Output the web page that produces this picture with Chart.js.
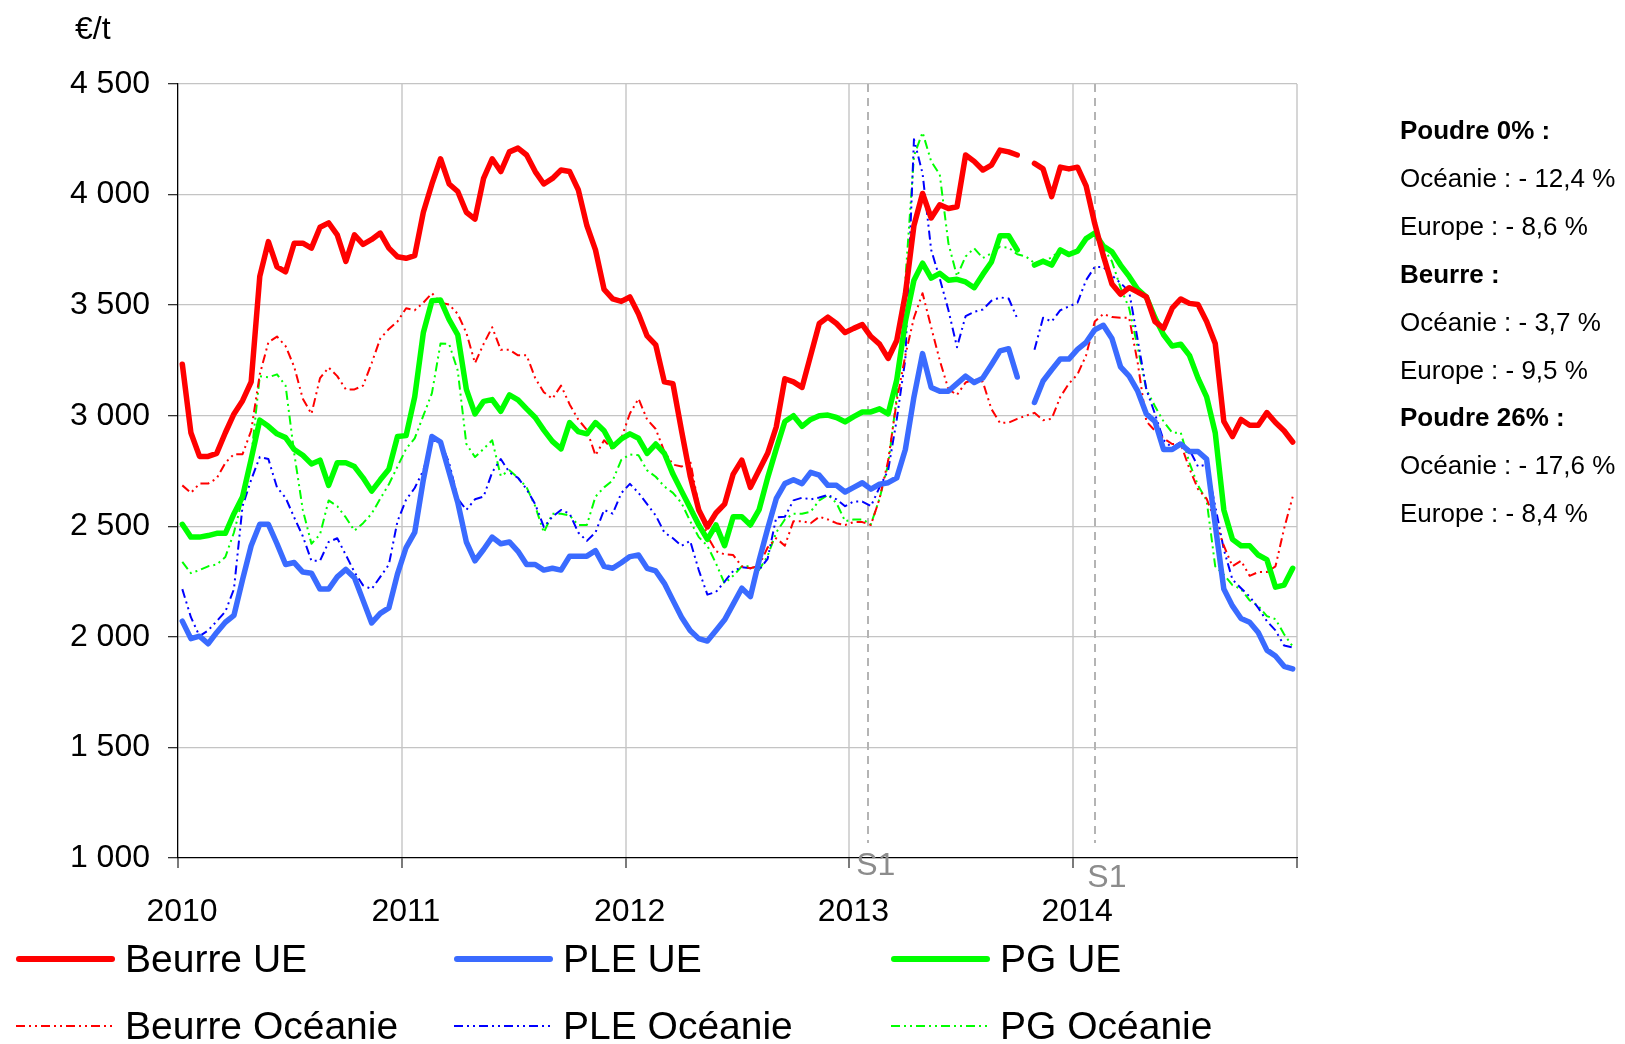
<!DOCTYPE html>
<html>
<head>
<meta charset="utf-8">
<script src="https://cdn.jsdelivr.net/npm/chart.js@4.4.1/dist/chart.umd.min.js"></script>
<style>
html,body{margin:0;padding:0;background:#ffffff;}
#wrap{width:1625px;height:1044px;position:relative;}
</style>
</head>
<body>
<div id="wrap"><canvas id="c"></canvas></div>
<script>
// ---- Data (biweekly prices, €/t) ----
const START_YEAR = 2010;
const PERIODS_PER_YEAR = 26;
const yearTicks = [2010, 2011, 2012, 2013, 2014];

const beurreUE = [3233,2923,2816,2816,2830,2923,3008,3068,3153,3630,3787,3673,3651,3780,3780,3758,3852,3872,3818,3698,3818,3775,3797,3826,3758,3719,
3712,3724,3920,4048,4162,4048,4014,3920,3889,4073,4162,4104,4193,4210,4179,4104,4048,4073,4111,4104,4022,3860,3750,3571,3528,3517,
3537,3460,3361,3320,3153,3145,2932,2727,2574,2497,2560,2600,2736,2799,2676,2753,2830,2949,3167,3153,3128,3273,3417,3446,3417,3376,
3395,3412,3358,3324,3259,3340,3550,3860,4005,3894,3954,3937,3945,4179,4150,4111,4133,4201,4193,4179,null,4141,4116,3991,4124,4116,
4124,4039,3869,3724,3596,3549,3579,3559,3537,3426,3395,3486,3528,3508,3503,3426,3327,2974,2906,2983,2957,2957,3014,2969,2932,2881];

const pleUE = [2071,1992,2003,1969,2020,2066,2097,2259,2412,2509,2509,2421,2327,2336,2293,2288,2216,2216,2271,2305,2267,2165,2063,2106,2131,2285,
2404,2472,2710,2906,2881,2744,2608,2429,2344,2395,2451,2421,2429,2387,2327,2327,2302,2310,2302,2365,2365,2365,2390,2319,2310,2335,
2363,2370,2310,2298,2242,2165,2089,2029,1992,1981,2029,2077,2148,2220,2182,2344,2489,2625,2693,2710,2693,2744,2731,2685,2685,2655,
2676,2697,2668,2690,2697,2719,2847,3085,3281,3128,3111,3111,3145,3179,3150,3170,3230,3293,3303,3175,null,3060,3157,3208,3256,3256,
3300,3332,3388,3409,3349,3221,3179,3111,3008,2974,2847,2847,2872,2838,2838,2804,2506,2216,2140,2083,2066,2020,1940,1913,1867,1855];

const pgUE = [2509,2451,2451,2458,2468,2468,2557,2634,2804,2980,2952,2918,2901,2847,2821,2782,2799,2685,2787,2787,2770,2719,2659,2710,2758,2906,
2910,3085,3375,3520,3523,3434,3366,3119,3008,3065,3073,3020,3094,3072,3031,2992,2935,2884,2850,2969,2928,2918,2969,2932,2860,2895,
2918,2898,2830,2872,2830,2736,2659,2583,2506,2441,2506,2412,2543,2543,2506,2574,2719,2850,2974,3000,2952,2983,3000,3003,2992,2972,
2996,3017,3017,3031,3008,3162,3426,3613,3690,3622,3644,3613,3617,3605,3579,3639,3695,3814,3814,3750,null,3681,3699,3681,3750,3729,
3744,3801,3826,3767,3741,3681,3630,3571,3537,3443,3366,3315,3323,3273,3170,3085,2923,2574,2441,2412,2412,2370,2349,2225,2234,2310];

const beurreOceanie = [2685,2651,2693,2693,2717,2787,2826,2826,2932,3187,3332,3358,3315,3221,3077,3008,3170,3218,3179,3119,3119,3136,3238,3349,3392,3426,
3486,3477,3511,3554,3511,3503,3460,3375,3238,3324,3400,3298,3298,3273,3273,3170,3106,3077,3136,3051,2983,2935,2821,2889,2847,2898,
3010,3077,2983,2940,2838,2779,2770,2796,2591,2455,2387,2373,2370,2319,2310,2322,2404,2446,2412,2523,2523,2514,2543,2531,2514,2506,
2519,2519,2506,2625,2796,3068,3273,3443,3554,3400,3250,3120,3094,3150,3165,3153,3030,2967,2969,2986,3000,3013,2980,2986,3085,3145,
3187,3273,3426,3460,3446,3443,3443,3238,2974,2932,2898,2872,2872,2761,2668,2625,2523,2412,2319,2344,2276,2293,2293,2319,2489,2634];

const pleOceanie = [2216,2089,2003,2029,2071,2114,2216,2591,2710,2813,2804,2676,2629,2540,2455,2344,2344,2429,2446,2370,2293,2233,2216,2271,2327,2523,
2620,2673,2753,2889,2881,2787,2625,2574,2622,2634,2744,2804,2744,2719,2668,2600,2497,2543,2574,2557,2472,2434,2472,2574,2557,2650,
2692,2651,2600,2549,2472,2446,2412,2434,2302,2191,2203,2250,2298,2315,2310,2302,2353,2540,2543,2617,2629,2622,2630,2642,2622,2591,
2612,2612,2591,2676,2753,2983,3256,4250,4095,3750,3620,3478,3310,3450,3470,3480,3520,3535,3530,3440,null,3298,3443,3426,3477,3494,
3511,3613,3673,3673,3634,3600,3562,3341,3119,3008,2889,2855,2881,2847,2770,2779,2591,2395,2259,2220,2182,2131,2071,2029,1961,1952];

const pgOceanie = [2339,2288,2302,2319,2327,2361,2472,2625,2813,3179,3174,3187,3136,2830,2574,2421,2463,2617,2591,2540,2480,2514,2557,2625,2690,2770,
2850,2898,3000,3102,3327,3324,3204,2872,2813,2850,2889,2727,2753,2719,2676,2591,2472,2557,2557,2549,2506,2506,2634,2676,2707,2800,
2825,2821,2753,2724,2680,2651,2605,2523,2451,2412,2332,2242,2276,2319,2319,2302,2366,2472,2531,2557,2557,2566,2617,2642,2605,2523,
2531,2531,2509,2625,2779,3085,3613,4175,4281,4150,4090,3780,3630,3720,3757,3713,3735,3764,3760,3730,3720,3690,3700,3715,3750,3730,
3750,3797,3818,3758,3698,3579,3486,3307,3119,3043,2974,2923,2923,2787,2685,2617,2319,2281,2234,2216,2165,2140,2094,2080,2012,1957];

const seriesNames = ['Beurre UE', 'PLE UE', 'PG UE', 'Beurre Océanie', 'PLE Océanie', 'PG Océanie'];
const s1Marks = [2013.082, 2014.097];
const s1Text = ['S1', 'S1'];
const notes = [
  ['Poudre 0% :', true],
  ['Océanie : - 12,4 %', false],
  ['Europe : - 8,6 %', false],
  ['Beurre :', true],
  ['Océanie : - 3,7 %', false],
  ['Europe : - 9,5 %', false],
  ['Poudre 26% :', true],
  ['Océanie : - 17,6 %', false],
  ['Europe : - 8,4 %', false]
];

// ---- Build chart ----
const FONT = "'Liberation Sans', Arial, Helvetica, sans-serif";
const toPoints = arr => arr.map((v, i) => ({ x: START_YEAR + (i + 0.5) / PERIODS_PER_YEAR, y: v }));
const DASH = [9, 4, 2, 4, 2, 4];

function mk(label, arr, color, thick) {
  return {
    label, data: toPoints(arr),
    borderColor: color, backgroundColor: color,
    borderWidth: thick ? 5.5 : 2,
    borderDash: thick ? [] : DASH,
    borderJoinStyle: 'round', borderCapStyle: thick ? 'round' : 'butt',
    pointRadius: 0, tension: 0, spanGaps: false, fill: false,
    legendWidth: thick ? 6 : 2
  };
}

const datasets = [
  mk(seriesNames[0], beurreUE, '#ff0000', true),
  mk(seriesNames[1], pleUE, '#3a6bff', true),
  mk(seriesNames[2], pgUE, '#00ff00', true),
  mk(seriesNames[3], beurreOceanie, '#ff0000', false),
  mk(seriesNames[4], pleOceanie, '#0000ff', false),
  mk(seriesNames[5], pgOceanie, '#00ff00', false)
];

function fmtThousands(v) {
  const th = Math.floor(v / 1000), r = v % 1000;
  return th > 0 ? th + ' ' + String(r).padStart(3, '0') : String(r);
}

const decorPlugin = {
  id: 'decor',
  beforeDatasetsDraw(chart) {
    const { ctx, chartArea, scales } = chart;
    ctx.save();
    ctx.strokeStyle = '#b4b4b4';
    ctx.lineWidth = 2;
    ctx.setLineDash([8, 6]);
    s1Marks.forEach(m => {
      const x = Math.round(scales.x.getPixelForValue(m));
      ctx.beginPath();
      ctx.moveTo(x, chartArea.top);
      ctx.lineTo(x, chartArea.bottom - 15);
      ctx.stroke();
    });
    ctx.restore();
  },
  afterDraw(chart) {
    const { ctx, scales } = chart;
    ctx.save();
    // unit label
    ctx.fillStyle = '#000';
    ctx.font = '32px ' + FONT;
    ctx.textAlign = 'left';
    ctx.textBaseline = 'alphabetic';
    ctx.fillText('€/t', 75, 39);
    // S1 labels
    ctx.fillStyle = '#8c8c8c';
    ctx.textAlign = 'center';
    ctx.textBaseline = 'middle';
    const s1Off = [[8, 866], [12, 878]];
    s1Marks.forEach((m, k) => {
      const x = scales.x.getPixelForValue(m);
      ctx.fillText(s1Text[k], x + s1Off[k][0], s1Off[k][1]);
    });
    // notes on the right
    ctx.fillStyle = '#000';
    ctx.textAlign = 'left';
    ctx.textBaseline = 'alphabetic';
    notes.forEach((n, k) => {
      ctx.font = (n[1] ? 'bold 26px ' : '26px ') + FONT;
      ctx.fillText(n[0], 1400, 139 + k * 47.9);
    });
    // legend
    const cols = [16, 454, 891];
    const rows = [959, 1026];
    const baselines = [972, 1039];
    chart.data.datasets.forEach((ds, i) => {
      const c = i % 3, r = Math.floor(i / 3);
      const x0 = cols[c], y = rows[r];
      ctx.save();
      ctx.strokeStyle = ds.borderColor;
      ctx.lineWidth = ds.legendWidth;
      ctx.setLineDash(ds.borderDash);
      ctx.lineCap = r === 0 ? 'round' : 'butt';
      ctx.beginPath();
      ctx.moveTo(x0 + (r === 0 ? 3 : 0), y);
      ctx.lineTo(x0 + 96, y);
      ctx.stroke();
      ctx.restore();
      ctx.fillStyle = '#000';
      ctx.font = '39px ' + FONT;
      ctx.fillText(ds.label, x0 + 109, baselines[r]);
    });
    ctx.restore();
  }
};

new Chart(document.getElementById('c'), {
  type: 'line',
  data: { datasets },
  options: {
    responsive: true,
    maintainAspectRatio: false,
    animation: false,
    devicePixelRatio: 1,
    layout: { padding: { left: 0, top: 84, right: 328, bottom: 0 } },
    plugins: { legend: { display: false }, tooltip: { enabled: false } },
    scales: {
      x: {
        type: 'linear', min: 2010, max: 2015,
        afterFit: s => { s.height = 186; },
        ticks: {
          stepSize: 1, autoSkip: false, maxRotation: 0, padding: 25, labelOffset: 4,
          color: '#000', font: { family: FONT, size: 32 },
          callback: v => yearTicks.includes(v) ? String(v) : ''
        },
        grid: {
          color: c => (c.tick && c.tick.value === 2010) ? 'rgba(0,0,0,0)' : '#d6d6d6',
          lineWidth: 2, tickLength: 10, tickColor: '#333', tickWidth: 1.3
        },
        border: { display: true, color: '#000', width: 1.3 }
      },
      y: {
        min: 1000, max: 4500,
        afterFit: s => { s.width = 178; },
        ticks: {
          stepSize: 500, padding: 18, color: '#000', font: { family: FONT, size: 32 },
          callback: v => fmtThousands(v)
        },
        grid: {
          color: c => (c.tick && c.tick.value === 1000) ? 'rgba(0,0,0,0)' : '#c4c4c4',
          lineWidth: 1.3, tickLength: 10, tickColor: '#333', tickWidth: 1.3
        },
        border: { display: true, color: '#000', width: 1.3 }
      }
    }
  },
  plugins: [decorPlugin]
});
</script>
</body>
</html>
